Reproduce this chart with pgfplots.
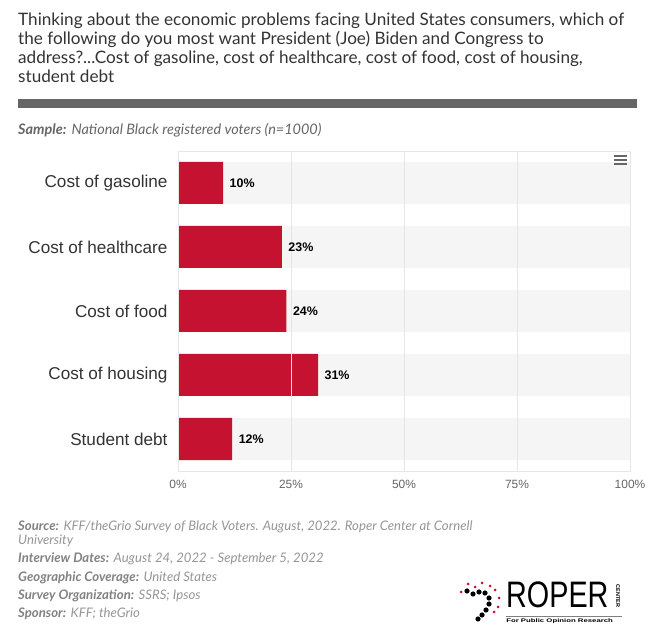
\documentclass[border=0pt]{standalone}
\usepackage{fontspec}
\setmainfont{Liberation Sans}
\newfontfamily\lato{Lato}
\usepackage{pgfplots}
\pgfplotsset{compat=1.18}

\definecolor{barred}{RGB}{196,18,48}
\definecolor{band}{RGB}{245,245,245}
\definecolor{gridc}{RGB}{230,230,230}
\definecolor{titlec}{RGB}{51,51,51}
\definecolor{rulec}{RGB}{102,102,102}
\definecolor{notec}{RGB}{150,150,150}
\definecolor{notelab}{RGB}{130,130,130}

\newcommand\note[2]{{\bfseries\itshape #1} {\itshape #2}}

\begin{document}
\begin{tikzpicture}[x=1bp,y=1bp]
\fill[white] (0,0) rectangle (656,643);

% title
\begin{scope}[every node/.style={anchor=base west, inner sep=0, text=titlec, font=\lato\fontsize{17.2}{19}\selectfont}]
\node at (18,643-26) {Thinking about the economic problems facing United States consumers, which of};
\node at (18,643-45) {the following do you most want President (Joe) Biden and Congress to};
\node at (18,643-64) {address?...Cost of gasoline, cost of healthcare, cost of food, cost of housing,};
\node at (18,643-83) {student debt};
\end{scope}
\fill[rulec] (18,643-99) rectangle (637,643-108);
\node[anchor=base west, inner sep=0, text=rulec, font=\lato\fontsize{14.5}{16}\selectfont]
  at (18,643-135) {\note{Sample:}{National Black registered voters (n=1000)}};

\begin{axis}[
  at={(178bp,{(643-471)*1bp})}, anchor=south west,
  scale only axis, width=452bp, height=320bp,
  xbar, bar width=42bp, bar shift=0pt,
  xmin=0, xmax=100, ymin=-0.5, ymax=4.5, y dir=reverse,
  xtick={0,25,50,75,100},
  xticklabels={0\%,25\%,50\%,75\%,100\%},
  ytick={0,1,2,3,4},
  yticklabels={Cost of gasoline,Cost of healthcare,Cost of food,Cost of housing,Student debt},
  xmajorgrids, major grid style={gridc, line width=0.8pt},
  axis line style={gridc, line width=0.8pt},
  major tick length=0pt,
  axis on top,
  /pgf/number format/assume math mode=true,
  xticklabel style={font=\fontsize{12}{14}\selectfont, text=rulec, yshift=-6bp},
  yticklabel style={font=\fontsize{17.2}{19}\selectfont, text=titlec, xshift=-7bp},
  nodes near coords={\pgfmathprintnumber{\pgfplotspointmeta}\%},
  nodes near coords style={font=\bfseries\fontsize{12.5}{14}\selectfont, text=black, anchor=west, xshift=3bp},
]
\addplot[fill=band, draw=none, nodes near coords=\relax] coordinates {(100,0) (100,1) (100,2) (100,3) (100,4)};
\addplot[fill=barred, draw=none] coordinates {(10,0) (23,1) (24,2) (31,3) (12,4)};
\end{axis}

% menu icon
\foreach \yy in {156,160,164} \draw[rulec, line width=2bp] (614,643-\yy) -- (627,643-\yy);

% notes
\begin{scope}[every node/.style={anchor=base west, inner sep=0, text=notec, font=\lato\fontsize{13.2}{15}\selectfont}]
\node at (18,643-531) {\note{\color{notelab}Source:}{KFF/theGrio Survey of Black Voters. August, 2022. Roper Center at Cornell}};
\node at (18,643-545) {\itshape University};
\node at (18,643-563) {\note{\color{notelab}Interview Dates:}{August 24, 2022 - September 5, 2022}};
\node at (18,643-582) {\note{\color{notelab}Geographic Coverage:}{United States}};
\node at (18,643-600) {\note{\color{notelab}Survey Organization:}{SSRS; Ipsos}};
\node at (18,643-618) {\note{\color{notelab}Sponsor:}{KFF; theGrio}};
\end{scope}

% logo
\foreach \px/\py in {467/591,473/594,479/592,485/593,489/598,489/604,486/610,482/615,478/619}
  \fill[black] (\px,643-\py) circle (2.6bp);
\foreach \px/\py in {461/592,468/584,475/587,482/583,490/586,495/590,499/598,498/607,494/612}
  \fill[barred] (\px,643-\py) circle (1.5bp);
\node[anchor=base west, inner sep=0, xscale=0.78, font=\fontsize{37}{37}\selectfont, draw=black, line width=0.5bp, draw opacity=0] at (506,643-608) {ROPER};
\node[rotate=-90, inner sep=0, font=\bfseries\fontsize{5.5}{5}\selectfont] at (618,643-596) {CENTER};
\draw[gray, line width=0.6bp] (506,643-616) -- (622,643-616);
\node[anchor=base west, inner sep=0, xscale=1.5, font=\bfseries\fontsize{5.2}{6}\selectfont] at (506,643-623) {For Public Opinion Research};
\end{tikzpicture}
\end{document}
